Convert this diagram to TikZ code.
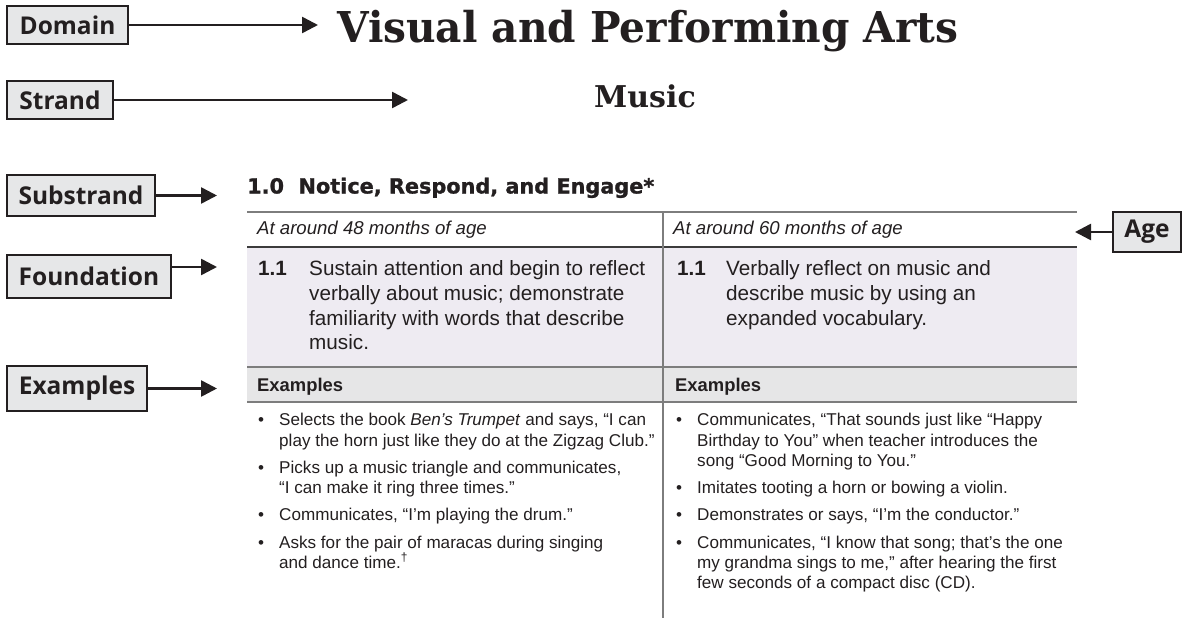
\documentclass[tikz,border=0pt]{standalone}
\usepackage{fontspec}
\setmainfont{Liberation Sans}
\newfontfamily\labfont{Open Sans}
\newfontfamily\serfont{DejaVu Serif}
\newfontfamily\headfont[BoldFeatures={FakeBold=1.2}]{DejaVu Sans}
\usetikzlibrary{arrows.meta}
\definecolor{boxfill}{HTML}{E6E7E8}
\definecolor{boxline}{HTML}{231F20}
\definecolor{rulegray}{HTML}{7D7D7D}
\definecolor{ruledark}{HTML}{3C3C3C}
\definecolor{fndfill}{HTML}{EEEBF2}
\definecolor{exfill}{HTML}{E6E6E7}
\definecolor{txt}{HTML}{231F20}
\tikzset{
  lab/.style={draw=boxline, fill=boxfill, line width=2.4pt, text=txt,
    font=\labfont\bfseries\fontsize{24.5}{24.5}\selectfont,
    anchor=north west, inner sep=0pt, outer sep=0pt},
  conn/.style={draw=boxline, line width=2.6pt,
    -{Triangle[length=16pt,width=16pt]}},
  tx/.style={anchor=base west, inner sep=0pt, text=txt},
  fnd/.style={tx, font=\fontsize{20.7}{24.5}\selectfont},
  fndnum/.style={tx, font=\bfseries\fontsize{20.7}{24.5}\selectfont},
  agetx/.style={tx, font=\itshape\fontsize{18.6}{22}\selectfont},
  exhead/.style={tx, font=\bfseries\fontsize{18.4}{22}\selectfont},
  bul/.style={tx, font=\fontsize{17.1}{20.5}\selectfont},
  hline/.style={draw=rulegray, line width=1.6pt},
}
\begin{document}
\begin{tikzpicture}[x=1pt,y=-1pt]
\useasboundingbox (0,0) rectangle (1186,621);

% ---------- title and strand ----------
\node[tx, font=\serfont\bfseries\fontsize{42.5}{44}\selectfont] (title) at (337,42) {\scalebox{0.957}[1]{Visual and Performing Arts}};
\node[anchor=base, inner sep=0pt, text=txt, font=\serfont\bfseries\fontsize{30}{32}\selectfont] (music) at (645,107) {Music};

% ---------- label boxes ----------
\node[lab, minimum width=121pt, minimum height=38pt] (dom) at (7,6) {Domain};
\node[lab, minimum width=106pt, minimum height=38pt] (str) at (7,81) {Strand};
\node[lab, minimum width=148pt, minimum height=41pt] (sub) at (7,175) {Substrand};
\node[lab, minimum width=164pt, minimum height=43pt] (fou) at (7,255) {Foundation};
\node[lab, minimum width=140pt, minimum height=45pt] (exa) at (7,366) {Examples};
\node[lab, minimum width=68pt, minimum height=40pt] (age) at (1113,212) {Age};

\coordinate (domtip) at (318,25);
\coordinate (strtip) at (408,100);
\coordinate (subtip) at (217,195.5);
\coordinate (foutip) at (217,267);
\coordinate (exatip) at (217,388.5);
\coordinate (agetip) at (1075,232);

\draw[conn] (dom.east) -- (dom.east -| domtip);
\draw[conn] (str.east) -- (str.east -| strtip);
\draw[conn] (sub.east) -- (sub.east -| subtip);
\draw[conn] (fou.east |- foutip) -- (foutip);
\draw[conn] (exa.east) -- (exa.east -| exatip);
\draw[conn] (age.west) -- (age.west -| agetip);

% ---------- substrand heading ----------
\node[tx, font=\headfont\bfseries\fontsize{20.8}{22}\selectfont] (head) at (247,193.5) {1.0\hspace{0.35em} Notice, Respond, and Engage*};

% ---------- table ----------
\fill[fndfill] (247,247) rectangle (1077,367);
\fill[exfill] (247,367) rectangle (1077,402);
\draw[hline] (247,212) -- (1077,212);
\draw[draw=ruledark, line width=2pt] (247,247) -- (1077,247);
\draw[hline] (247,367) -- (1077,367);
\draw[hline] (247,402) -- (1077,402);
\draw[hline] (663,212) -- (663,618);

\node[agetx] (ageL) at (257,234) {At around 48 months of age};
\node[agetx] (ageR) at (673,234) {At around 60 months of age};

\node[fndnum] (numL) at (258,275) {1.1};
\node[fndnum] (numR) at (677,275) {1.1};
\node[fnd] (fL1) at (309,275) {Sustain attention and begin to reflect};
\node[fnd] (fL2) at (309,300) {verbally about music; demonstrate};
\node[fnd] (fL3) at (309,325) {familiarity with words that describe};
\node[fnd] (fL4) at (309,349) {music.};
\node[fnd] (fR1) at (726,275) {Verbally reflect on music and};
\node[fnd] (fR2) at (726,300) {describe music by using an};
\node[fnd] (fR3) at (726,325) {expanded vocabulary.};

\node[exhead] (exL) at (257,391) {Examples};
\node[exhead] (exR) at (675,391) {Examples};

% left examples
\foreach \yy in {425,473,520,548} \node[bul] at (258,\yy) {•};
\node[bul] (bL1) at (279,425) {Selects the book \textit{Ben’s Trumpet} and says, “I can};
\node[bul] (bL2) at (279,446) {play the horn just like they do at the Zigzag Club.”};
\node[bul] (bL3) at (279,473) {Picks up a music triangle and communicates,};
\node[bul] (bL4) at (279,493) {“I can make it ring three times.”};
\node[bul] (bL5) at (279,520) {Communicates, “I’m playing the drum.”};
\node[bul] (bL6) at (279,548) {Asks for the pair of maracas during singing};
\node[bul] (bL7) at (279,568) {and dance time.\textsuperscript{†}};

% right examples
\foreach \yy in {425,493,520,548} \node[bul] at (676,\yy) {•};
\node[bul] (bR1) at (697,425) {Communicates, “That sounds just like “Happy};
\node[bul] (bR2) at (697,446) {Birthday to You” when teacher introduces the};
\node[bul] (bR3) at (697,466) {song “Good Morning to You.”};
\node[bul] (bR4) at (697,493) {Imitates tooting a horn or bowing a violin.};
\node[bul] (bR5) at (697,520) {Demonstrates or says, “I’m the conductor.”};
\node[bul] (bR6) at (697,548) {Communicates, “I know that song; that’s the one};
\node[bul] (bR7) at (697,568) {my grandma sings to me,” after hearing the first};
\node[bul] (bR8) at (697,588) {few seconds of a compact disc (CD).};
\end{tikzpicture}
\end{document}
